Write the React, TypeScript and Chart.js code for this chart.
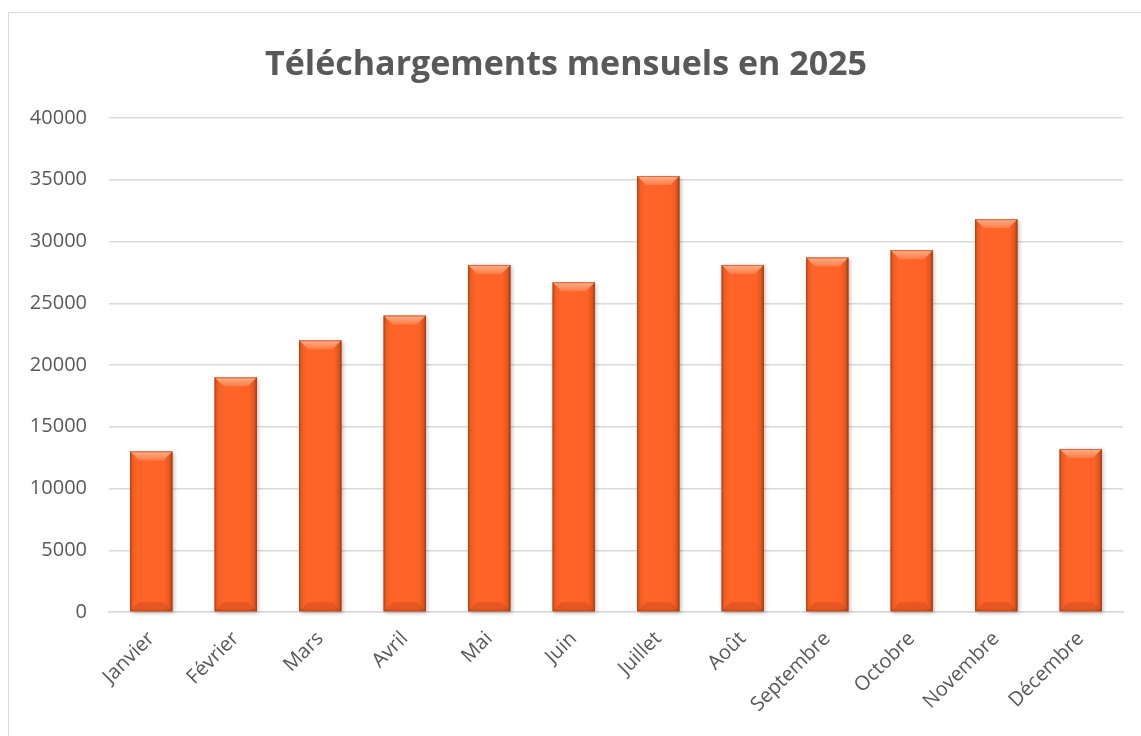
import React, { useEffect, useRef } from "react";
import { Chart, registerables } from "chart.js";

Chart.register(...registerables);

const months = [
  "Janvier", "Février", "Mars", "Avril", "Mai", "Juin",
  "Juillet", "Août", "Septembre", "Octobre", "Novembre", "Décembre",
];
const downloads = [13000, 19000, 22000, 24000, 28100, 26700, 35300, 28100, 28700, 29300, 31800, 13200];
const yTicks = [0, 5000, 10000, 15000, 20000, 25000, 30000, 35000, 40000];
const chartTitle = "Téléchargements mensuels en 2025";

const TEXT = "#595959";
const GRID = "#d9d9d9";
const TITLE_SIZE = 34;

const bevelPlugin = {
  id: "bevel",
  afterDatasetsDraw(chart: any) {
    const ctx = chart.ctx;
    const meta = chart.getDatasetMeta(0);
    meta.data.forEach((bar: any) => {
      const { x, y, width, base } = bar.getProps(["x", "y", "width", "base"], true);
      const l = x - width / 2;
      const r = x + width / 2;
      const t = y;
      const b = base;
      const bev = Math.min(9, (b - t) / 3);
      ctx.save();
      // shadow
      ctx.shadowColor = "rgba(0,0,0,0.28)";
      ctx.shadowBlur = 4;
      ctx.shadowOffsetX = 1.5;
      ctx.shadowOffsetY = 1.5;
      ctx.fillStyle = "#f05a20";
      ctx.fillRect(l, t, width, b - t);
      ctx.shadowColor = "transparent";
      // face
      const g = ctx.createLinearGradient(l, 0, r, 0);
      g.addColorStop(0, "#c24c1a");
      g.addColorStop(0.07, "#f25d22");
      g.addColorStop(0.18, "#ff6428");
      g.addColorStop(0.82, "#ff6226");
      g.addColorStop(0.93, "#e4561e");
      g.addColorStop(1, "#a34015");
      ctx.fillStyle = g;
      ctx.fillRect(l, t, width, b - t);
      // top bevel
      const tg = ctx.createLinearGradient(0, t, 0, t + bev);
      tg.addColorStop(0, "#ffb08c");
      tg.addColorStop(1, "#ff7c44");
      ctx.fillStyle = tg;
      ctx.beginPath();
      ctx.moveTo(l, t);
      ctx.lineTo(r, t);
      ctx.lineTo(r - bev, t + bev);
      ctx.lineTo(l + bev, t + bev);
      ctx.closePath();
      ctx.fill();
      // bottom bevel
      ctx.fillStyle = "rgba(170,60,20,0.3)";
      ctx.beginPath();
      ctx.moveTo(l, b);
      ctx.lineTo(r, b);
      ctx.lineTo(r - bev, b - bev);
      ctx.lineTo(l + bev, b - bev);
      ctx.closePath();
      ctx.fill();
      // edge
      ctx.strokeStyle = "rgba(160,60,20,0.55)";
      ctx.lineWidth = 1;
      ctx.strokeRect(l + 0.5, t + 0.5, width - 1, b - t - 1);
      ctx.restore();
    });
  },
};

export default function App() {
  const ref = useRef<HTMLCanvasElement>(null);

  useEffect(() => {
    if (!ref.current) return;
    const titlePadTop = 52 - (TITLE_SIZE * 1.2) / 2;
    const titlePadBottom = 105 - titlePadTop - TITLE_SIZE * 1.2;
    const chart = new Chart(ref.current, {
      type: "bar",
      data: {
        labels: months,
        datasets: [
          {
            label: "Téléchargements",
            data: downloads,
            backgroundColor: "rgba(0,0,0,0)",
            barPercentage: 0.5,
            categoryPercentage: 1,
          },
        ],
      },
      options: {
        animation: false,
        responsive: false,
        layout: { padding: { left: 0, right: 16, top: 0, bottom: 0 } },
        plugins: {
          legend: { display: false },
          tooltip: { enabled: false },
          title: {
            display: true,
            text: chartTitle,
            color: TEXT,
            font: { family: "'Open Sans', sans-serif", size: TITLE_SIZE, weight: "bold", lineHeight: 1.2 },
            padding: { top: titlePadTop, bottom: titlePadBottom },
          },
        },
        scales: {
          x: {
            grid: { display: false, drawTicks: false },
            border: { display: true, color: GRID, width: 1.5 },
            ticks: {
              color: TEXT,
              font: { family: "'Open Sans', sans-serif", size: 20 },
              maxRotation: 45,
              minRotation: 45,
              padding: 15,
            },
            afterFit: (s: any) => {
              s.height = 121;
            },
          },
          y: {
            min: 0,
            max: 40000,
            afterBuildTicks: (s: any) => {
              s.ticks = yTicks.map((v) => ({ value: v }));
            },
            grid: { color: GRID, lineWidth: 1.5, drawTicks: false },
            border: { display: false },
            ticks: {
              color: TEXT,
              font: { family: "'Open Sans', sans-serif", size: 20 },
              padding: 22,
              callback: (v: any) => String(v),
            },
            afterFit: (s: any) => {
              s.width = 100;
            },
          },
        },
      },
      plugins: [bevelPlugin],
    });
    return () => chart.destroy();
  }, []);

  return (
    <div
      style={{
        position: "absolute",
        left: 8,
        top: 12,
        width: 1150,
        height: 740,
        borderTop: "1.5px solid #d9d9d9",
        borderLeft: "1.5px solid #d9d9d9",
        boxSizing: "border-box",
        background: "#fff",
      }}
    >
      <canvas ref={ref} width={1130} height={720} style={{ position: "absolute", left: 0, top: 0 }} />
    </div>
  );
}
